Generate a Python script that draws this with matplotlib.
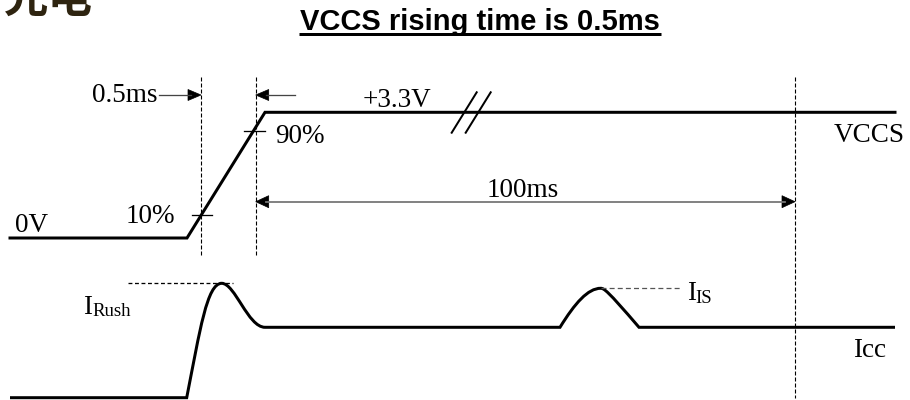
import matplotlib
matplotlib.use("Agg")
import matplotlib.pyplot as plt
from matplotlib.path import Path
from matplotlib.patches import PathPatch, Polygon

# ── Data (pixel space of the 910x400 drawing, y grows downward) ───────────────
# VCCS rail: 0V -> 10%/90% ramp -> +3.3V
vccs_x = [10, 187, 265, 895]
vccs_y = [238, 238, 112.3, 112.3]

# Icc: inrush hump, plateau, IS bump, plateau (cubic bezier control points)
icc_pts = [(10, 397.7), (186.7, 397.7),
           (200, 330), (207, 283.3), (221.7, 283.3),
           (235, 283.3), (248, 327.3), (265, 327.3),
           (560, 327.3),
           (575, 303), (588, 288.3), (600.7, 288.3),
           (604, 288.3), (607, 290), (639, 327.3),
           (895, 327.3)]
icc_codes = [Path.MOVETO, Path.LINETO,
             Path.CURVE4, Path.CURVE4, Path.CURVE4,
             Path.CURVE4, Path.CURVE4, Path.CURVE4,
             Path.LINETO,
             Path.CURVE4, Path.CURVE4, Path.CURVE4,
             Path.CURVE4, Path.CURVE4, Path.CURVE4,
             Path.LINETO]

# time markers (dashed verticals)
t_10 = 201
t_90 = 255.7
t_100 = 795
lvl_10 = 215
lvl_90 = 130.7
i_rush = 283.3
i_is = 288.3

# ── Style ─────────────────────────────────────────────────────────────────────
SERIF = ["Liberation Serif", "DejaVu Serif"]
PX = 0.72  # 1 px in points at dpi 100
FS = 19.5

fig = plt.figure(figsize=(9.1, 4.0), dpi=100, facecolor="white")
ax = fig.add_axes([0, 0, 1, 1])
ax.set_xlim(0, 910)
ax.set_ylim(400, 0)
ax.axis("off")

# logo fragment, cut off by the top edge
ax.text(4, 12, "光电", fontsize=32, fontweight="bold", color="#2e2410",
        family=["Noto Sans CJK SC", "DejaVu Sans"], va="baseline", ha="left")

# title + underline
ax.text(480, 29.5, "VCCS rising time is 0.5ms", fontsize=21, fontweight="bold",
        family=["Liberation Sans", "DejaVu Sans"], ha="center", va="baseline")
ax.plot([299, 661], [33.5, 33.5], color="black", lw=3 * PX, solid_capstyle="butt")

# waveforms
ax.plot(vccs_x, vccs_y, color="black", lw=3 * PX, solid_joinstyle="miter")
ax.add_patch(PathPatch(Path(icc_pts, icc_codes), facecolor="none",
                       edgecolor="black", lw=3 * PX))

# break marks on the +3.3V rail
for dx in (0, 14):
    ax.plot([451.7 + dx, 476.7 + dx], [132.7, 92.3], color="black", lw=2 * PX)

# dashed timing lines
dash = (0, (3.6, 1.8))
for x, y1 in ((t_10, 255), (t_90, 255), (t_100, 398)):
    ax.plot([x, x], [77, y1], color="black", lw=0.8, ls=dash)

# 10% / 90% ticks
ax.plot([191.7, 212], [lvl_10, lvl_10], color="black", lw=1.3 * PX)
ax.plot([244, 265], [lvl_90, lvl_90], color="black", lw=1.3 * PX)

# peak reference lines
ax.plot([127.7, 233], [i_rush, i_rush], color="black", lw=1.3 * PX, ls=(0, (3, 2)))
ax.plot([600.7, 680], [i_is, i_is], color="#555555", lw=0.9, ls=(0, (4, 2.5)))


def head(tip_x, y, direction, length=13, half=5.5):
    ax.add_patch(Polygon([(tip_x, y), (tip_x - direction * length, y - half),
                          (tip_x - direction * length, y + half)],
                         closed=True, facecolor="black", edgecolor="black", lw=0.5))


# 0.5ms arrows
ax.plot([159, t_10 - 10], [95, 95], color="#444444", lw=1.3 * PX)
head(t_10, 95, 1)
ax.plot([t_90 + 10, 295], [95, 95], color="#444444", lw=1.3 * PX)
head(t_90, 95, -1)

# 100ms span
ax.plot([t_90 + 10, t_100 - 10], [201.7, 201.7], color="#777777", lw=1.8 * PX)
head(t_90, 201.7, -1, half=6)
head(t_100, 201.7, 1, half=6)

# labels
def label(x, y, s, size=FS):
    ax.text(x, y, s, fontsize=size, family=SERIF, ha="left", va="baseline")


label(92, 101.7, "0.5ms")
label(363, 106.7, "+3.3V")
label(275, 143, "90%")
label(834, 141.7, "VCCS")
label(487, 196.7, "100ms")
label(15, 232, "0V")
label(126, 223, "10%")
label(82.7, 314, "I")
label(92, 316.5, "Rush", 13.5)
label(686.7, 300, "I")
label(695.5, 303, "IS", 13.5)
label(853, 357.3, "Icc")

fig.savefig("out.png", dpi=100, facecolor="white")
